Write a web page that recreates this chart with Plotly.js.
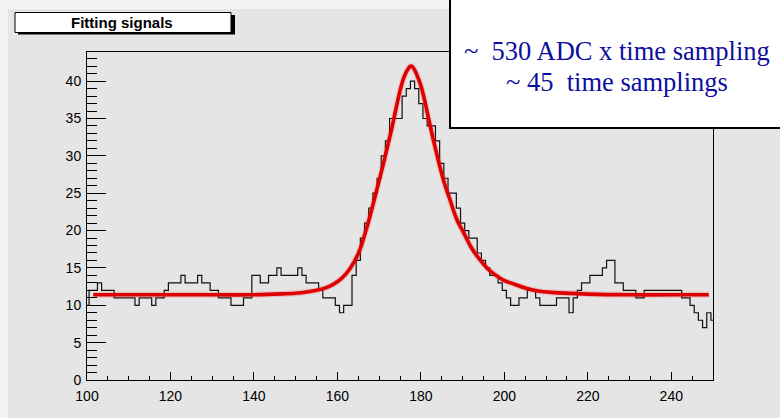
<!DOCTYPE html>
<html>
<head>
<meta charset="utf-8">
<script src="https://cdn.plot.ly/plotly-3.0.1.min.js"></script>
<style>
  html, body { margin: 0; padding: 0; background: #e5e5e5; }
  #chart { width: 780px; height: 418px; }
</style>
</head>
<body>
<div id="chart"></div>
<script>
// ---- data ----
const chartTitle = "Fitting signals";
const noteLine1 = "~&nbsp;&nbsp;530 ADC x time sampling";
const noteLine2 = "~ 45&nbsp;&nbsp;time samplings";

// histogram: time sample (bin centre) and counts
const times = [];
for (let t = 100; t <= 250; t++) times.push(t);
const counts = [
  10, 12, 12, 13, 12, 12, 12, 11, 11, 11,   // 100-109
  11, 11, 10, 11, 11, 11, 10, 11, 11, 12,   // 110-119
  13, 13, 13, 14, 13, 13, 13, 14, 13, 13,   // 120-129
  12, 12, 11, 11, 11, 10, 10, 10, 11, 11,   // 130-139
  14, 14, 13, 13, 14, 14, 15, 14, 14, 14,   // 140-149
  14, 15, 14, 13, 13, 13, 12, 11, 11, 11,   // 150-159
  10,  9, 10, 10, 14, 16, 19, 21, 23, 25,   // 160-169
  27, 30, 32, 35, 35, 35, 38, 39, 40, 39,   // 170-179
  37, 35, 34, 34, 32, 29, 27, 25, 25, 23,   // 180-189
  21, 20, 19, 19, 17, 16, 15, 14, 14, 13,   // 190-199
  12, 11, 10, 10, 11, 11, 12, 12, 11, 10,   // 200-209
  10, 10, 10, 11, 11, 11,  9, 11, 12, 13,   // 210-219
  13, 14, 14, 14, 15, 16, 16, 13, 13, 12,   // 220-229
  12, 12, 11, 11, 12, 12, 12, 12, 12, 12,   // 230-239
  12, 12, 12, 11, 11, 10,  9,  8,  7,  9,   // 240-249
  8                                         // 250
];

// fitted curve, points
const fitX = [101.5, 110, 120, 130, 140, 145, 150, 153, 155, 157, 159, 161, 163, 165, 167, 169, 171, 173, 175,
              176, 177, 177.5, 178, 179, 180, 181, 182, 183, 184, 185, 186, 187, 188, 189, 190, 192, 194,
              196, 198, 200, 202, 205, 208, 212, 216, 220, 230, 240, 249];
const fitY = [11.4, 11.4, 11.4, 11.4, 11.4, 11.5, 11.6, 11.8, 12.0, 12.3, 12.8, 13.6, 14.9, 16.9, 20.3, 24.5, 28.9, 33.6, 38.7,
              40.6, 41.7, 42.0, 41.9, 40.9, 39.4, 37.2, 34.6, 32.1, 29.8, 27.6, 25.7, 24.1, 22.4, 21.0, 20.0, 17.8, 16.2,
              14.9, 14.0, 13.3, 12.9, 12.3, 11.9, 11.7, 11.6, 11.5, 11.4, 11.4, 11.4];

const xTicks = [100, 120, 140, 160, 180, 200, 220, 240];
const yTicks = [0, 5, 10, 15, 20, 25, 30, 35, 40];

// ---- layout helpers (pixel -> paper) ----
const W = 780, H = 418;
const M = { l: 87, r: 67, t: 52, b: 38 };
const PW = W - M.l - M.r, PH = H - M.t - M.b;
const px = x => (x - M.l) / PW;
const py = y => 1 - (y - M.t) / PH;

const canvasBg = '#e5e5e5';
const stripBg = '#f3f3f3';

const traces = [
  {
    x: times, y: counts, type: 'scatter', mode: 'lines',
    line: { shape: 'hvh', color: '#111', width: 1.2 },
    hoverinfo: 'skip', showlegend: false
  },
  {
    x: fitX, y: fitY, type: 'scatter', mode: 'lines',
    line: { shape: 'spline', color: 'rgba(235,60,60,0.22)', width: 6 },
    hoverinfo: 'skip', showlegend: false
  },
  {
    x: fitX, y: fitY, type: 'scatter', mode: 'lines',
    line: { shape: 'spline', color: 'rgb(222,0,0)', width: 3.6 },
    hoverinfo: 'skip', showlegend: false
  }
];

const tickFont = { family: 'Liberation Sans, Arial, sans-serif', size: 14, color: '#000' };
const noteFont = { family: 'Liberation Serif, Times New Roman, serif', size: 26.5, color: 'rgb(14,14,160)' };

const layout = {
  width: W, height: H,
  margin: M,
  paper_bgcolor: canvasBg,
  plot_bgcolor: canvasBg,
  showlegend: false,
  xaxis: {
    range: [100, 250],
    tickvals: xTicks,
    ticktext: xTicks.map(String),
    ticks: 'inside', ticklen: 8, tickwidth: 1, tickcolor: '#000',
    minor: { dtick: 5, tick0: 100, ticks: 'inside', ticklen: 4, tickwidth: 1, tickcolor: '#000', showgrid: false },
    showline: true, linecolor: '#000', linewidth: 1, mirror: true,
    showgrid: false, zeroline: false,
    tickfont: tickFont,
    ticklabelstandoff: 3
  },
  yaxis: {
    range: [0, 43.9],
    tickvals: yTicks,
    ticktext: yTicks.map(String),
    ticks: 'inside', ticklen: 19, tickwidth: 1, tickcolor: '#000',
    minor: { dtick: 1, tick0: 0, ticks: 'inside', ticklen: 10, tickwidth: 1, tickcolor: '#000', showgrid: false },
    showline: true, linecolor: '#000', linewidth: 1, mirror: true,
    showgrid: false, zeroline: false,
    tickfont: tickFont,
    ticklabelstandoff: 2
  },
  shapes: [
    // lighter outer strips (left and top)
    { type: 'rect', xref: 'paper', yref: 'paper', x0: px(0), x1: px(8), y0: py(0), y1: py(H),
      fillcolor: stripBg, line: { width: 0 }, layer: 'below' },
    { type: 'rect', xref: 'paper', yref: 'paper', x0: px(0), x1: px(W), y0: py(0), y1: py(9),
      fillcolor: stripBg, line: { width: 0 }, layer: 'below' },
    // title box shadow + box
    { type: 'rect', xref: 'paper', yref: 'paper', x0: px(18), x1: px(235), y0: py(15), y1: py(34.5),
      fillcolor: '#000', line: { width: 0 }, layer: 'above' },
    { type: 'rect', xref: 'paper', yref: 'paper', x0: px(15), x1: px(231), y0: py(12.5), y1: py(32.5),
      fillcolor: '#ffffff', line: { color: '#000', width: 1 }, layer: 'above' },
    // note box
    { type: 'rect', xref: 'paper', yref: 'paper', x0: px(450), x1: px(795), y0: py(-5), y1: py(128),
      fillcolor: '#ffffff', line: { color: '#000', width: 2 }, layer: 'above' }
  ],
  annotations: [
    { text: '<b>' + chartTitle + '</b>', xref: 'paper', yref: 'paper', x: px(121.5), y: py(22.5),
      xanchor: 'center', yanchor: 'middle', showarrow: false,
      font: { family: 'Liberation Sans, Arial, sans-serif', size: 15, color: '#000' } },
    { text: noteLine1, xref: 'paper', yref: 'paper', x: px(617), y: py(51),
      xanchor: 'center', yanchor: 'middle', showarrow: false, font: noteFont },
    { text: noteLine2, xref: 'paper', yref: 'paper', x: px(617), y: py(82),
      xanchor: 'center', yanchor: 'middle', showarrow: false, font: noteFont }
  ]
};

Plotly.newPlot('chart', traces, layout, { staticPlot: true, displayModeBar: false });
</script>
</body>
</html>
